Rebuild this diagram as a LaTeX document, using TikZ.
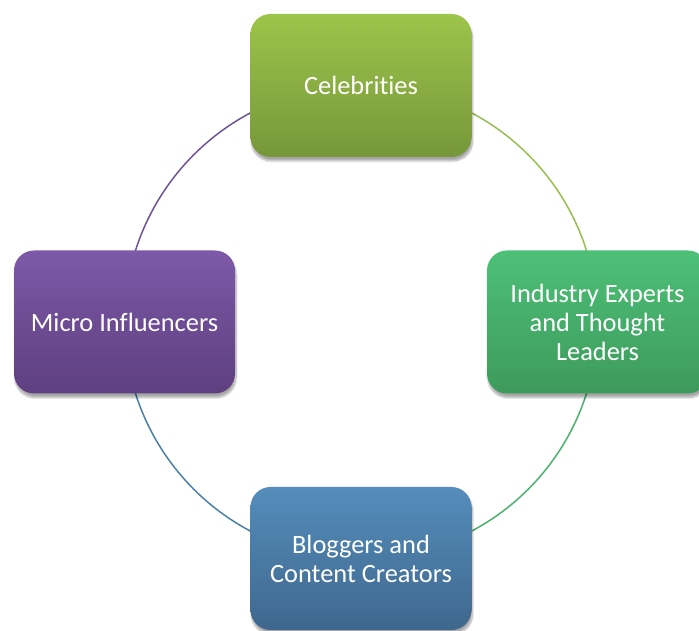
\documentclass[tikz,border=0pt]{standalone}
\usepackage{fontspec}
\setmainfont{Carlito}[Ligatures=NoCommon]
\usetikzlibrary{backgrounds,shadows.blur}

\definecolor{celebtop}{HTML}{9DC44B}
\definecolor{celebbot}{HTML}{76973A}
\definecolor{experttop}{HTML}{4DC077}
\definecolor{expertbot}{HTML}{3E9A5C}
\definecolor{bloggertop}{HTML}{548DBB}
\definecolor{bloggerbot}{HTML}{3F678D}
\definecolor{microtop}{HTML}{7D59A7}
\definecolor{microbot}{HTML}{5E3F80}

\begin{document}
\begin{tikzpicture}[x=1pt,y=1pt,
    box/.style={rounded corners=20pt, minimum width=221pt, minimum height=143pt,
        inner sep=0pt, align=center, text=white,
        font=\fontsize{26.4}{29}\selectfont,
        blur shadow={shadow xshift=1pt, shadow yshift=-4pt, shadow blur steps=10, shadow opacity=35}},
    link/.style={line width=1.5pt}]

        \useasboundingbox (0,0) rectangle (699,631);

        % Centre of the ring
        \coordinate (O) at (361,309);

        % Boxes
        \node[box, top color=celebtop, bottom color=celebbot, yshift=236.5pt] (celeb) at (O) {Celebrities};
        \node[box, top color=experttop, bottom color=expertbot, xshift=236.5pt] (expert) at (O) {Industry Experts\\and Thought\\Leaders};
        \node[box, top color=bloggertop, bottom color=bloggerbot, yshift=-236.5pt] (blogger) at (O) {Bloggers and\\Content Creators};
        \node[box, top color=microtop, bottom color=microbot, xshift=-236.5pt] (micro) at (O) {Micro Influencers};

        % Arcs
        \begin{scope}[on background layer]
        \draw[link, color={rgb,255:red,150;green,190;blue,80}] (celeb.center) arc[start angle=90, end angle=0, radius=236.5];
        \draw[link, color={rgb,255:red,75;green,178;blue,110}] (expert.center) arc[start angle=0, end angle=-90, radius=236.5];
        \draw[link, color={rgb,255:red,74;green,128;blue,170}] (blogger.center) arc[start angle=-90, end angle=-180, radius=236.5];
        \draw[link, color={rgb,255:red,112;green,82;blue,150}] (micro.center) arc[start angle=180, end angle=90, radius=236.5];
        \end{scope}

    \end{tikzpicture}
\end{document}
